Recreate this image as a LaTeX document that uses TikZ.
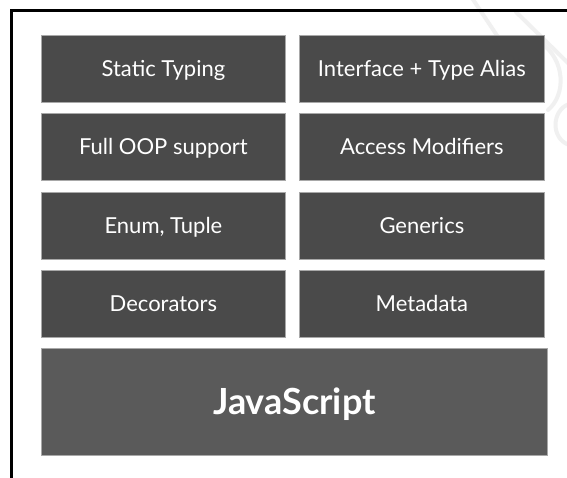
\documentclass[tikz,border=0pt]{standalone}
\usepackage{fontspec}
\setmainfont{Lato}
\begin{document}
\begin{tikzpicture}[x=1pt,y=-1pt,
  feature/.style={draw=boxedge, line width=0.8pt, fill=boxfill, text=white,
    minimum width=244pt, minimum height=67pt, inner sep=0pt, anchor=north west,
    font=\fontsize{22}{26}\selectfont, text height=15.8pt, text depth=0pt},
  basebox/.style={feature, fill=basefill, minimum width=506pt, minimum height=107pt,
    font=\fontsize{36}{42}\selectfont\bfseries, text height=25.8pt},
  faint/.style={draw=black!6, line width=4pt, line cap=round}]
\definecolor{boxfill}{HTML}{4A4A4A}
\definecolor{basefill}{HTML}{5A5A5A}
\definecolor{boxedge}{HTML}{A8A8A8}
\useasboundingbox (0,0) rectangle (567,478);
\fill[white] (0,0) rectangle (567,478);
% faint mark in the upper right corner
\draw[faint] (472,-2) -- (540,100);
\draw[faint] (516,12) -- (569,64);
\draw[faint] (540,42) .. controls (566,60) and (566,95) .. (548,110);
\draw[faint] (569,104) .. controls (552,110) and (550,138) .. (569,145);
% frame (continues past the right and bottom edges)
\draw[line width=3pt] (11.5,478) -- (11.5,10.5) -- (567,10.5);
% feature blocks
\node[feature] (st) at (41,35)  {Static Typing};
\node[feature, minimum width=245pt] (ita) at (299,35) {Interface + Type Alias};
\node[feature] (oop) at (41,113) {Full OOP support};
\node[feature, minimum width=245pt] (am) at (299,113) {Access Modifiers};
\node[feature] (et) at (41,192) {Enum, Tuple};
\node[feature, minimum width=245pt] (gen) at (299,192) {Generics};
\node[feature] (dec) at (41,270) {Decorators};
\node[feature, minimum width=245pt] (meta) at (299,270) {Metadata};
% foundation
\node[basebox] (js) at (41,348) {JavaScript};
\end{tikzpicture}
\end{document}
